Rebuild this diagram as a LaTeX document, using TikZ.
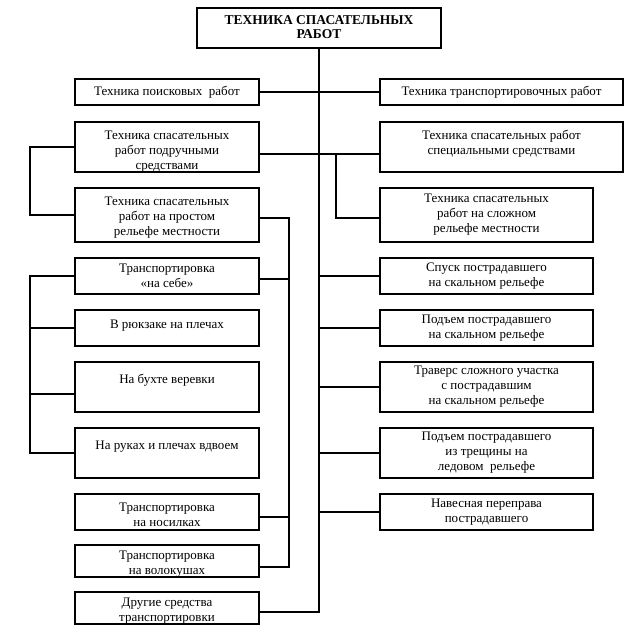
\documentclass[tikz,border=0pt]{standalone}
\usepackage{fontspec}
\setmainfont{Liberation Serif}
\usetikzlibrary{positioning}

% text block moved up or down inside its box, box size kept
\newcommand{\boxtext}[2]{\raisebox{#1}[\height][\depth]{\begin{tabular}{@{}c@{}}#2\end{tabular}}}

\begin{document}
\begin{tikzpicture}[
    x = 1pt, % one unit per pixel
    y = -1pt, % y axis points down
    line width = 1.8pt, % line style
    font = \fontsize{13}{15}\selectfont
    ]

    \tikzset{
    block/.style = {
    draw = black,
    fill = white,
    align = center,
    inner sep = 1pt
    },
    lblock/.style = {block, minimum width = 184pt},
    rblock/.style = {block, minimum width = 213pt},
    wblock/.style = {block, minimum width = 243pt}
    }

    \useasboundingbox (0,0) rectangle (635,640);

    % top
    \node[block, minimum width = 244pt, minimum height = 40pt,
    font = \bfseries\fontsize{13.5}{14}\selectfont] (root) at (319,28)
    {\boxtext{-1pt}{ТЕХНИКА СПАСАТЕЛЬНЫХ\\РАБОТ}};

    % left column
    \node[lblock, minimum height = 26pt] (L1) at (167,92) {Техника поисковых\ \ работ};
    \node[lblock, minimum height = 50pt] (L2) at (167,147) {\boxtext{-4pt}{Техника спасательных\\работ подручными\\средствами}};
    \node[lblock, minimum height = 54pt] (L3) at (167,215) {\boxtext{-2pt}{Техника спасательных\\работ на простом\\рельефе местности}};
    \node[lblock, minimum height = 36pt] (L4) at (167,276) {Транспортировка\\«на себе»};
    \node[lblock, minimum height = 36pt] (L5) at (167,328) {\boxtext{3pt}{В рюкзаке на плечах}};
    \node[lblock, minimum height = 50pt] (L6) at (167,387) {\boxtext{7pt}{На бухте веревки}};
    \node[lblock, minimum height = 50pt] (L7) at (167,453) {\boxtext{7pt}{На руках и плечах вдвоем}};
    \node[lblock, minimum height = 36pt] (L8) at (167,512) {\boxtext{-4pt}{Транспортировка\\на носилках}};
    \node[lblock, minimum height = 32pt] (L9) at (167,561) {\boxtext{-3pt}{Транспортировка\\на волокушах}};
    \node[lblock, minimum height = 32pt] (L10) at (167,608) {\boxtext{-3pt}{Другие средства\\транспортировки}};

    % right column
    \node[wblock, minimum height = 26pt] (R1) at (501.5,92) {Техника транспортировочных работ};
    \node[wblock, minimum height = 50pt] (R2) at (501.5,147) {\boxtext{3pt}{Техника спасательных работ\\специальными средствами}};
    \node[rblock, minimum height = 54pt] (R3) at (486.5,215) {Техника спасательных\\работ на сложном\\рельефе местности};
    \node[rblock, minimum height = 36pt] (R4) at (486.5,276) {Спуск пострадавшего\\на скальном рельефе};
    \node[rblock, minimum height = 36pt] (R5) at (486.5,328) {Подъем пострадавшего\\на скальном рельефе};
    \node[rblock, minimum height = 50pt] (R6) at (486.5,387) {Траверс сложного участка\\с пострадавшим\\на скальном рельефе};
    \node[rblock, minimum height = 50pt] (R7) at (486.5,453) {Подъем пострадавшего\\из трещины на\\ледовом\ \ рельефе};
    \node[rblock, minimum height = 36pt] (R8) at (486.5,512) {Навесная переправа\\пострадавшего};

    % connections
    \draw ([yshift=-4pt]L10.east) -| (root);
    \draw (L1) -- (R1);
    \draw ([yshift=-7pt]L2.east) -- ([yshift=-7pt]R2.west);
    \coordinate (fork) at (336,154);
    \draw (fork) |- ([yshift=-3pt]R3.west);
    \draw (L2.west) -- ++(-44,0) |- (L3.west);
    \draw (L4.west) -- ++(-44,0) |- (L7.west);
    \draw (L5.west) -- ++(-44,0);
    \draw ([yshift=-7pt]L6.west) -- ++(-44,0);
    \draw ([yshift=-3pt]L3.east) -- ++(29,0) |- ([yshift=-6pt]L9.east);
    \draw ([yshift=-3pt]L4.east) -- ++(29,0);
    \draw ([yshift=-5pt]L8.east) -- ++(29,0);
    \foreach \r in {R4,R5,R6,R7,R8}
    \draw (root |- \r.west) -- (\r);
\end{tikzpicture}
\end{document}
